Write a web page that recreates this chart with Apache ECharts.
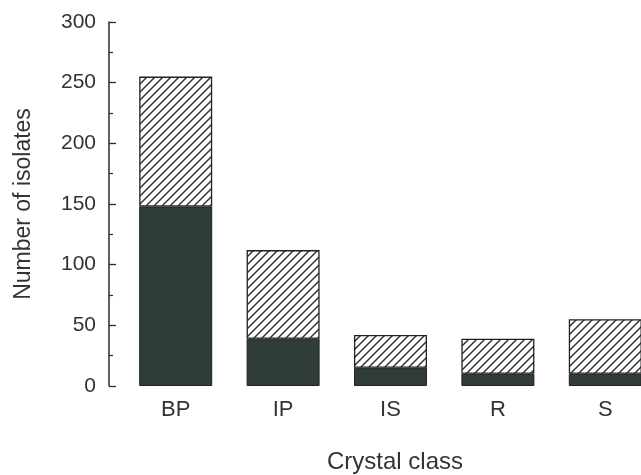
<!DOCTYPE html>
<html>
<head>
<meta charset="utf-8">
<script src="https://cdn.jsdelivr.net/npm/echarts@6/dist/echarts.min.js"></script>
<style>
  html, body { margin: 0; padding: 0; background: #fff; }
  #chart { width: 641px; height: 475px; }
</style>
</head>
<body>
<div id="chart"></div>
<script>
// Crystal classes and isolate counts
const categories = ['BP', 'IP', 'IS', 'R', 'S'];
const solidPart = [148, 39, 15, 10, 10];     // dark lower segment
const hatchedPart = [107, 73, 27, 29, 45];   // hatched upper segment
const yTicks = [0, 50, 100, 150, 200, 250, 300];

// diagonal hatch pattern for the upper segments
function hatch() {
    const c = document.createElement('canvas');
    c.width = 8; c.height = 8;
    const g = c.getContext('2d');
    g.fillStyle = '#fff';
    g.fillRect(0, 0, 8, 8);
    g.strokeStyle = '#333';
    g.lineWidth = 1.5;
    g.beginPath();
    g.moveTo(-2, 10); g.lineTo(10, -2);
    g.moveTo(-2, 2); g.lineTo(2, -2);
    g.moveTo(6, 10); g.lineTo(10, 6);
    g.stroke();
    return c;
}

const font = '"Liberation Sans", Arial, sans-serif';
const chart = echarts.init(document.getElementById('chart'), null, { renderer: 'canvas' });

chart.setOption({
    animation: false,
    // the last bar runs off the right edge in the original
    grid: { left: 122, right: -18, top: 22, bottom: 89, outerBoundsMode: 'none', containLabel: false },
    xAxis: {
        type: 'category',
        data: categories,
        axisLine: { show: false },
        axisTick: { show: false },
        axisLabel: { color: '#333', fontFamily: font, fontSize: 22, margin: 13 },
        name: 'Crystal class',
        nameLocation: 'middle',
        nameGap: 64,
        nameTextStyle: { color: '#333', fontFamily: font, fontSize: 24, padding: [0, 0, 0, 9] }
    },
    yAxis: {
        type: 'value',
        min: 0,
        max: 300,
        interval: 50,
        offset: 13,
        axisLine: { show: true, lineStyle: { color: '#2a2a2a', width: 1.5 } },
        axisTick: { show: true, inside: true, length: 7, lineStyle: { color: '#2a2a2a', width: 1.3 } },
        minorTick: { show: true, splitNumber: 2, length: 4, lineStyle: { color: '#2a2a2a', width: 1.2 } },
        splitLine: { show: false },
        axisLabel: {
            color: '#333', fontFamily: font, fontSize: 21, margin: 13,
            formatter: v => yTicks.includes(v) ? String(v) : ''
        },
        name: 'Number of isolates',
        nameLocation: 'middle',
        nameGap: 74,
        nameTextStyle: { color: '#333', fontFamily: font, fontSize: 23 }
    },
    series: [
        {
            type: 'bar',
            stack: 'total',
            data: solidPart,
            barWidth: 73,
            itemStyle: { color: '#2f3c38', borderColor: '#222', borderWidth: 1 }
        },
        {
            type: 'bar',
            stack: 'total',
            data: hatchedPart,
            barWidth: 73,
            itemStyle: {
                color: { image: hatch(), repeat: 'repeat' },
                borderColor: '#222',
                borderWidth: 1.3
            }
        }
    ]
});
</script>
</body>
</html>
